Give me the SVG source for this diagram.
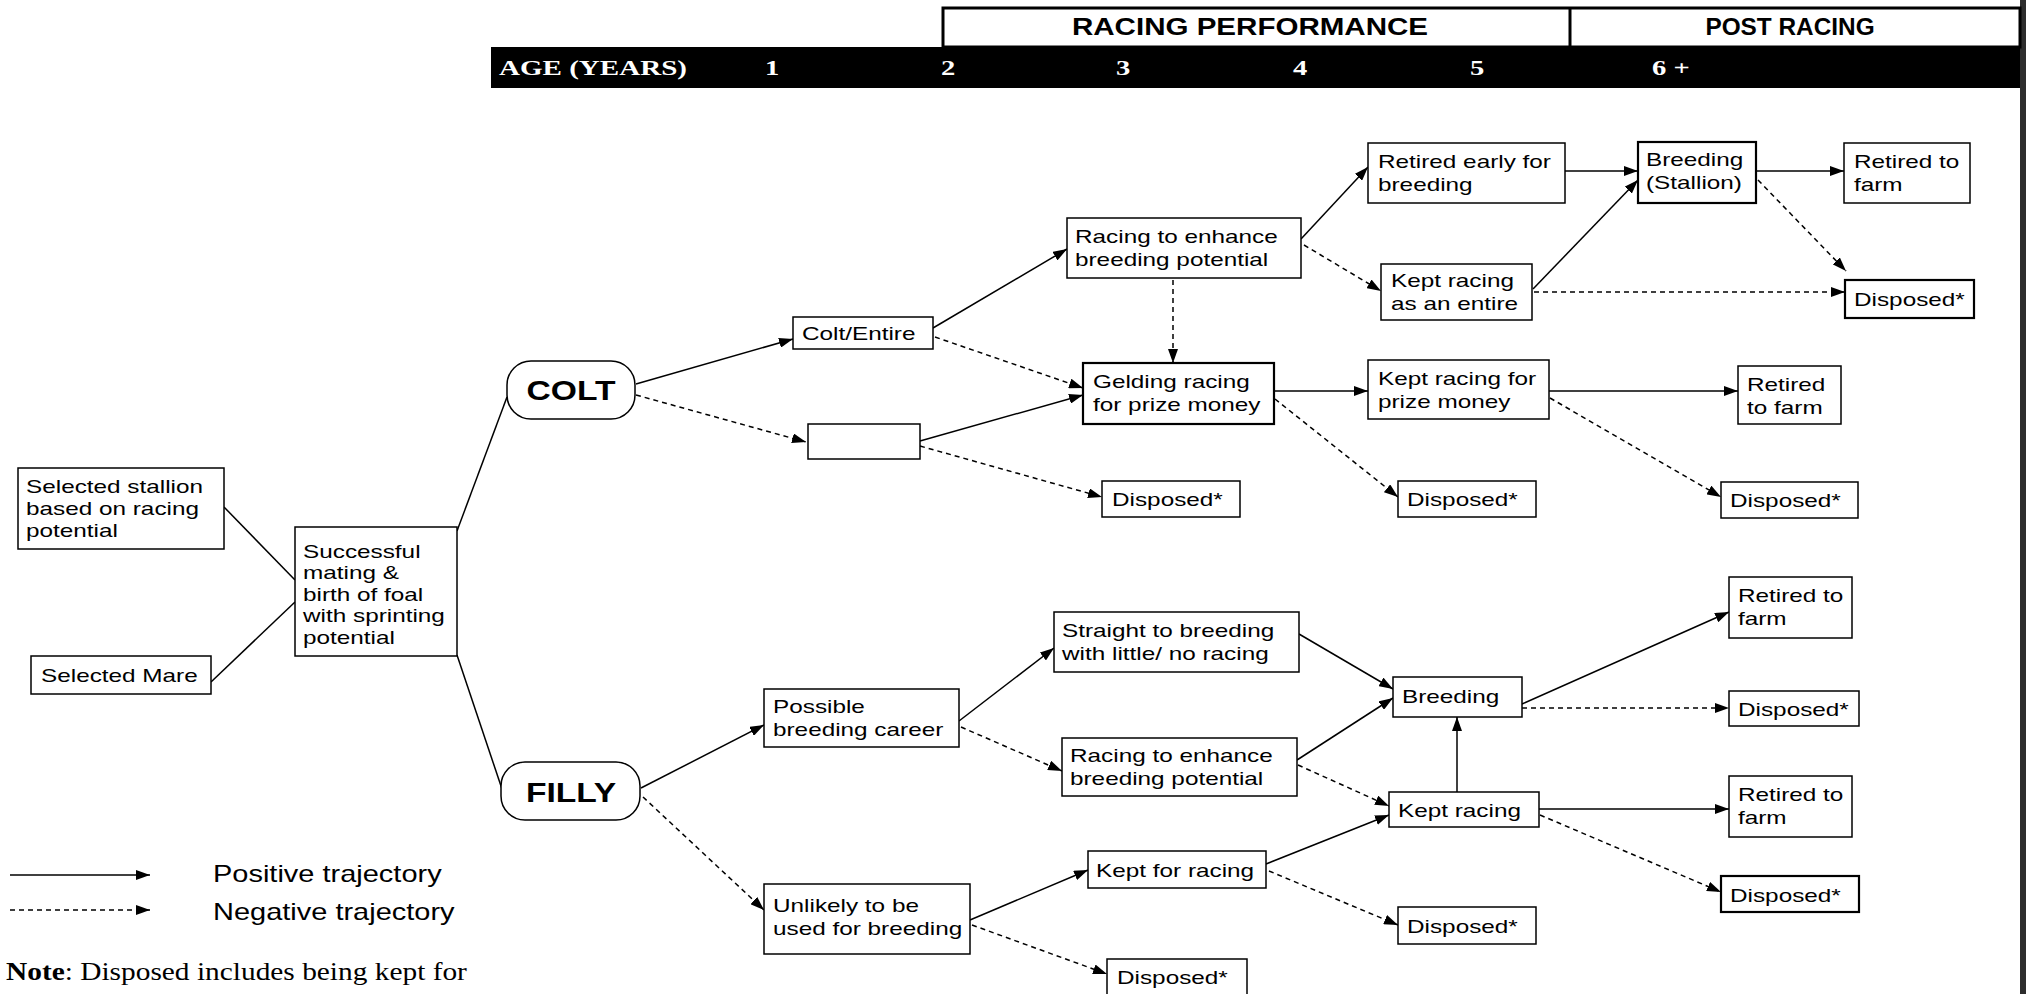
<svg xmlns="http://www.w3.org/2000/svg" width="2026" height="994" viewBox="0 0 2026 994">
<style>
.b{fill:#fff;stroke:#000;stroke-width:1.5}
.k{stroke-width:2.2}
.t{font-family:"Liberation Sans",Arial,sans-serif;font-size:19px;fill:#000}
.big{font-family:"Liberation Sans",Arial,sans-serif;font-size:28px;font-weight:bold;fill:#000;text-anchor:middle}
.hd{font-family:"Liberation Sans",Arial,sans-serif;font-size:23px;font-weight:bold;fill:#000;text-anchor:middle}
.yr{font-family:"Liberation Serif","Times New Roman",serif;font-size:22px;font-weight:bold;fill:#fff}
.lg{font-family:"Liberation Sans",Arial,sans-serif;font-size:23px;fill:#000}
.nt{font-family:"Liberation Serif","Times New Roman",serif;font-size:26px;fill:#000}
.s{fill:none;stroke:#000;stroke-width:1.5}
.a{marker-end:url(#ah)}
.d{stroke-dasharray:5 4}
</style>
<defs>
<marker id="ah" viewBox="0 0 14 10" refX="14" refY="5" markerWidth="14" markerHeight="10" markerUnits="userSpaceOnUse" orient="auto">
<path d="M0,0 L14,5 L0,10 Z" fill="#000"/>
</marker>
</defs>
<rect x="0" y="0" width="2026" height="994" fill="#fff"/>
<rect x="2020" y="0" width="6" height="994" fill="#2d2d2d"/>

<g id="header">
<rect x="943" y="8" width="1077" height="39" fill="#fff" stroke="#000" stroke-width="3"/>
<line x1="1570" y1="8" x2="1570" y2="47" stroke="#000" stroke-width="3"/>
<rect x="491" y="47" width="1529" height="41" fill="#000"/>
<text class="hd" transform="translate(1250 35) scale(1.285 1)">RACING PERFORMANCE</text>
<text class="hd" transform="translate(1790 35) scale(1.06 1)">POST RACING</text>
<text class="yr" x="499" y="75" textLength="188" lengthAdjust="spacingAndGlyphs">AGE (YEARS)</text>
<text class="yr" transform="translate(765 75) scale(1.3 1)">1</text>
<text class="yr" transform="translate(941 75) scale(1.3 1)">2</text>
<text class="yr" transform="translate(1116 75) scale(1.3 1)">3</text>
<text class="yr" transform="translate(1293 75) scale(1.3 1)">4</text>
<text class="yr" transform="translate(1470 75) scale(1.3 1)">5</text>
<text class="yr" transform="translate(1652 75) scale(1.3 1)">6 +</text>
</g>

<g id="connectors">
<path class="s" d="M224,507 L295,580"/>
<path class="s" d="M211,682 L295,602"/>
<path class="s" d="M457,531 L507,397"/>
<path class="s" d="M457,655 L502,789"/>
<path class="s a" d="M636,384 L793,339"/>
<path class="s a" d="M933,328 L1067,249"/>
<path class="s a" d="M920,441 L1083,395"/>
<path class="s a" d="M1301,239 L1368,167"/>
<path class="s a" d="M1274,391 L1368,391"/>
<path class="s a" d="M1565,171 L1638,171"/>
<path class="s a" d="M1533,289 L1638,180"/>
<path class="s a" d="M1756,171 L1844,171"/>
<path class="s a" d="M1549,391 L1738,391"/>
<path class="s a" d="M641,788 L764,725"/>
<path class="s a" d="M959,721 L1054,648"/>
<path class="s a" d="M1299,634 L1393,689"/>
<path class="s a" d="M1297,760 L1393,698"/>
<path class="s a" d="M970,920 L1088,870"/>
<path class="s a" d="M1266,864 L1389,815"/>
<path class="s a" d="M1457,792 L1457,717"/>
<path class="s a" d="M1522,704 L1729,612"/>
<path class="s a" d="M1539,809 L1729,809"/>
<path class="s a d" d="M636,395 L806,442"/>
<path class="s a d" d="M935,337 L1083,388"/>
<path class="s a d" d="M920,446 L1102,497"/>
<path class="s a d" d="M1173,280 L1173,363"/>
<path class="s a d" d="M1304,245 L1381,291"/>
<path class="s a d" d="M1275,399 L1398,497"/>
<path class="s a d" d="M1534,292 L1845,292"/>
<path class="s a d" d="M1758,180 L1846,271"/>
<path class="s a d" d="M1550,398 L1721,497"/>
<path class="s a d" d="M643,797 L764,910"/>
<path class="s a d" d="M961,727 L1062,771"/>
<path class="s a d" d="M1298,765 L1389,806"/>
<path class="s a d" d="M972,925 L1107,974"/>
<path class="s a d" d="M1269,871 L1398,925"/>
<path class="s a d" d="M1522,708 L1729,708"/>
<path class="s a d" d="M1540,815 L1721,892"/>
</g>

<g id="n-stallion"><rect class="b" x="18" y="468" width="206" height="81"/>
<text class="t" transform="translate(26 493) scale(1.28 1)"><tspan x="0">Selected stallion</tspan><tspan x="0" dy="22">based on racing</tspan><tspan x="0" dy="22">potential</tspan></text></g>
<g id="n-mare"><rect class="b" x="31" y="656" width="180" height="38"/>
<text class="t" transform="translate(41 682) scale(1.28 1)">Selected Mare</text></g>
<g id="n-successful"><rect class="b" x="295" y="527" width="162" height="129"/>
<text class="t" transform="translate(303 558) scale(1.28 1)"><tspan x="0">Successful</tspan><tspan x="0" dy="21.5">mating &amp;</tspan><tspan x="0" dy="21.5">birth of foal</tspan><tspan x="0" dy="21.5">with sprinting</tspan><tspan x="0" dy="21.5">potential</tspan></text></g>
<g id="n-colt"><rect class="b" x="507" y="361" width="128" height="58" rx="24"/>
<text class="big" transform="translate(571 400) scale(1.2 1)">COLT</text></g>
<g id="n-filly"><rect class="b" x="501" y="762" width="139" height="58" rx="24"/>
<text class="big" transform="translate(571 802) scale(1.2 1)">FILLY</text></g>

<g id="n-coltentire"><rect class="b" x="793" y="317" width="140" height="32"/>
<text class="t" transform="translate(802 340) scale(1.28 1)">Colt/Entire</text></g>
<g id="n-empty"><rect class="b" x="808" y="424" width="112" height="35"/></g>
<g id="n-racing-c"><rect class="b" x="1067" y="218" width="234" height="60"/>
<text class="t" transform="translate(1075 243) scale(1.28 1)"><tspan x="0">Racing to enhance</tspan><tspan x="0" dy="23">breeding potential</tspan></text></g>
<g id="n-gelding"><rect class="b k" x="1083" y="363" width="191" height="61"/>
<text class="t" transform="translate(1093 388) scale(1.28 1)"><tspan x="0">Gelding racing</tspan><tspan x="0" dy="23">for prize money</tspan></text></g>
<g id="n-disp-c1"><rect class="b" x="1102" y="481" width="138" height="36"/>
<text class="t" transform="translate(1112 506) scale(1.28 1)">Disposed*</text></g>
<g id="n-retired-early"><rect class="b" x="1368" y="143" width="197" height="60"/>
<text class="t" transform="translate(1378 168) scale(1.28 1)"><tspan x="0">Retired early for</tspan><tspan x="0" dy="23">breeding</tspan></text></g>
<g id="n-kept-entire"><rect class="b" x="1381" y="264" width="151" height="56"/>
<text class="t" transform="translate(1391 287) scale(1.28 1)"><tspan x="0">Kept racing</tspan><tspan x="0" dy="23">as an entire</tspan></text></g>
<g id="n-kept-prize"><rect class="b" x="1368" y="360" width="181" height="59"/>
<text class="t" transform="translate(1378 385) scale(1.28 1)"><tspan x="0">Kept racing for</tspan><tspan x="0" dy="23">prize money</tspan></text></g>
<g id="n-disp-c2"><rect class="b" x="1398" y="481" width="138" height="36"/>
<text class="t" transform="translate(1407 506) scale(1.28 1)">Disposed*</text></g>
<g id="n-breeding-stallion"><rect class="b k" x="1638" y="142" width="118" height="61"/>
<text class="t" transform="translate(1646 166) scale(1.28 1)"><tspan x="0">Breeding</tspan><tspan x="0" dy="23">(Stallion)</tspan></text></g>
<g id="n-retired-top"><rect class="b" x="1844" y="143" width="126" height="60"/>
<text class="t" transform="translate(1854 168) scale(1.28 1)"><tspan x="0">Retired to</tspan><tspan x="0" dy="23">farm</tspan></text></g>
<g id="n-disp-c3"><rect class="b k" x="1845" y="280" width="129" height="38"/>
<text class="t" transform="translate(1854 306) scale(1.28 1)">Disposed*</text></g>
<g id="n-retired-mid"><rect class="b" x="1738" y="366" width="103" height="58"/>
<text class="t" transform="translate(1747 391) scale(1.28 1)"><tspan x="0">Retired</tspan><tspan x="0" dy="23">to farm</tspan></text></g>
<g id="n-disp-c4"><rect class="b" x="1721" y="482" width="137" height="36"/>
<text class="t" transform="translate(1730 507) scale(1.28 1)">Disposed*</text></g>

<g id="n-possible"><rect class="b" x="764" y="689" width="195" height="58"/>
<text class="t" transform="translate(773 713) scale(1.28 1)"><tspan x="0">Possible</tspan><tspan x="0" dy="23">breeding career</tspan></text></g>
<g id="n-unlikely"><rect class="b" x="764" y="884" width="206" height="70"/>
<text class="t" transform="translate(773 912) scale(1.28 1)"><tspan x="0">Unlikely to be</tspan><tspan x="0" dy="23">used for breeding</tspan></text></g>
<g id="n-straight"><rect class="b" x="1054" y="612" width="245" height="60"/>
<text class="t" transform="translate(1062 637) scale(1.28 1)"><tspan x="0">Straight to breeding</tspan><tspan x="0" dy="23">with little/ no racing</tspan></text></g>
<g id="n-racing-f"><rect class="b" x="1062" y="738" width="235" height="58"/>
<text class="t" transform="translate(1070 762) scale(1.28 1)"><tspan x="0">Racing to enhance</tspan><tspan x="0" dy="23">breeding potential</tspan></text></g>
<g id="n-kept-for"><rect class="b" x="1088" y="851" width="178" height="37"/>
<text class="t" transform="translate(1096 877) scale(1.28 1)">Kept for racing</text></g>
<g id="n-disp-f1"><rect class="b" x="1107" y="959" width="140" height="42"/>
<text class="t" transform="translate(1117 984) scale(1.28 1)">Disposed*</text></g>
<g id="n-breeding-f"><rect class="b" x="1393" y="677" width="129" height="40"/>
<text class="t" transform="translate(1402 703) scale(1.28 1)">Breeding</text></g>
<g id="n-kept-racing"><rect class="b" x="1389" y="792" width="150" height="35"/>
<text class="t" transform="translate(1398 817) scale(1.28 1)">Kept racing</text></g>
<g id="n-disp-f2"><rect class="b" x="1398" y="907" width="138" height="37"/>
<text class="t" transform="translate(1407 933) scale(1.28 1)">Disposed*</text></g>
<g id="n-retired-f1"><rect class="b" x="1729" y="577" width="123" height="61"/>
<text class="t" transform="translate(1738 602) scale(1.28 1)"><tspan x="0">Retired to</tspan><tspan x="0" dy="23">farm</tspan></text></g>
<g id="n-disp-f3"><rect class="b" x="1729" y="691" width="130" height="35"/>
<text class="t" transform="translate(1738 716) scale(1.28 1)">Disposed*</text></g>
<g id="n-retired-f2"><rect class="b" x="1729" y="776" width="123" height="61"/>
<text class="t" transform="translate(1738 801) scale(1.28 1)"><tspan x="0">Retired to</tspan><tspan x="0" dy="23">farm</tspan></text></g>
<g id="n-disp-f4"><rect class="b k" x="1721" y="876" width="138" height="36"/>
<text class="t" transform="translate(1730 902) scale(1.28 1)">Disposed*</text></g>

<g id="legend">
<path class="s a" d="M10,875 L150,875"/>
<path class="s a d" d="M10,910 L150,910"/>
<text class="lg" transform="translate(213 882) scale(1.26 1)">Positive trajectory</text>
<text class="lg" transform="translate(213 920) scale(1.26 1)">Negative trajectory</text>
<text class="nt" transform="translate(6 980) scale(1.13 1)"><tspan font-weight="bold">Note</tspan>: Disposed includes being kept for</text>
</g>
</svg>
